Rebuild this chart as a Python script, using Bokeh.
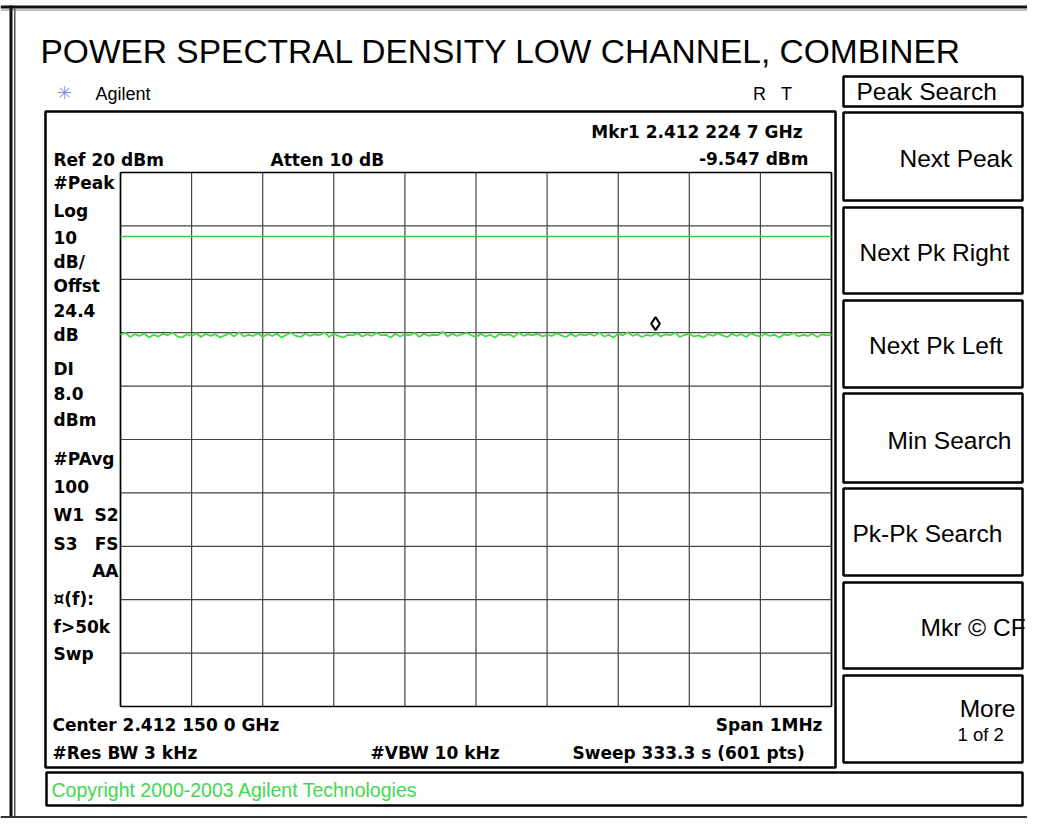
from bokeh.plotting import figure
from bokeh.models import Range1d
from bokeh.core.properties import value
from bokeh.embed import file_html
from bokeh.resources import INLINE
import numpy as np

# ---------------- data ----------------
center_mhz = 2412.150
span_mhz = 1.0
ref_level_dbm = 20.0
db_per_div = 10.0
n_div = 10
display_line_dbm = 8.0

trace_dbm = [
    -10.4, -10.0, -10.8, -10.3, -10.6, -10.1, -10.9, -10.4, -10.7, -10.2,
    -10.5, -10.0, -10.7, -10.9, -10.3, -10.6, -10.1, -10.8, -10.2, -10.6,
    -10.3, -10.9, -10.5, -10.1, -10.7, -9.9, -10.7, -10.4, -10.6, -10.1,
    -10.8, -10.3, -10.6, -10.2, -10.9, -10.4, -10.0, -10.6, -10.8, -10.2,
    -10.6, -10.3, -10.5, -9.9, -10.8, -10.2, -10.6, -10.9, -10.4, -10.5,
    -10.1, -10.7, -10.3, -10.6, -10.0, -10.5, -10.4, -10.9, -10.2, -10.7,
    -10.3, -10.5, -10.0, -10.8, -10.2, -10.6, -10.4, -10.5, -9.8, -10.7,
    -10.2, -10.6, -10.3, -10.0, -10.5, -10.8, -10.2, -10.7, -10.4, -10.9,
    -10.2, -10.5, -10.3, -10.8, -10.0, -10.6, -10.3, -10.5, -10.2, -10.7,
    -10.4, -10.6, -10.1, -10.5, -10.8, -10.2, -10.7, -10.3, -10.5, -10.2,
    -10.6, -10.0, -10.7, -10.4, -10.9, -10.2, -10.5, -9.9, -10.6, -10.3,
    -10.8, -10.4, -10.6, -10.1, -10.7, -10.3, -10.5, -10.0, -10.8, -10.4,
    -10.2, -10.7, -10.5, -10.9, -10.3, -10.6, -10.1, -10.5, -10.8, -10.2,
    -10.6, -10.3, -10.8, -10.1, -10.5, -10.7, -10.2, -10.6, -10.4, -10.9,
    -10.3, -10.5, -10.0, -10.7, -10.4, -10.6, -10.2, -10.8, -10.3, -10.5,
    -10.4,
]
marker_freq_mhz = [2412.4025]
marker_dbm = [-8.3]

title_text = "POWER SPECTRAL DENSITY LOW CHANNEL, COMBINER"
left_info = ["#Peak", "Log", "10", "dB/", "Offst", "24.4", "dB", "DI", "8.0", "dBm",
             "#PAvg", "100", "W1", "S3", "\u00a4(f):", "f>50k", "Swp"]
softkeys = ["Next Peak", "Next Pk Right", "Next Pk Left", "Min Search",
            "Pk-Pk Search", "Mkr \u00a9 CF", "More"]

# ---------------- layout (pixels of the screen) ----------------
W, H = 1027, 818
GX0, GX1, GY0, GY1 = 120, 831, 172, 706   # graticule box

f_start = center_mhz - span_mhz / 2
f_stop = center_mhz + span_mhz / 2
y_bottom = ref_level_dbm - db_per_div * n_div

p = figure(width=W, height=H, output_backend="svg", toolbar_location=None,
           title=None, x_axis_type=None, y_axis_type=None,
           x_range=Range1d(0, W), y_range=Range1d(H, 0),
           min_border=0)
p.outline_line_color = None
p.background_fill_color = "white"
p.border_fill_color = "white"
p.grid.visible = False

# data ranges mapped onto the graticule box
px_per_mhz = (GX1 - GX0) / span_mhz
px_per_db = (GY1 - GY0) / (ref_level_dbm - y_bottom)
p.extra_x_ranges = {"freq": Range1d(f_start - GX0 / px_per_mhz,
                                    f_start + (W - GX0) / px_per_mhz)}
p.extra_y_ranges = {"db": Range1d(ref_level_dbm - (H - GY0) / px_per_db,
                                  ref_level_dbm + GY0 / px_per_db)}
D = dict(x_range_name="freq", y_range_name="db")

xticks = [f_start + i * span_mhz / n_div for i in range(n_div + 1)]
yticks = [y_bottom + i * db_per_div for i in range(n_div + 1)]

# graticule
p.segment(x0=xticks, y0=[y_bottom] * len(xticks), x1=xticks, y1=[ref_level_dbm] * len(xticks),
          line_color="#444444", line_width=1.2, **D)
p.segment(x0=[f_start] * len(yticks), y0=yticks, x1=[f_stop] * len(yticks), y1=yticks,
          line_color="#444444", line_width=1.2, **D)
p.quad(left=[f_start], right=[f_stop], bottom=[y_bottom], top=[ref_level_dbm],
       fill_alpha=0, line_color="black", line_width=1.6, **D)

freqs = np.linspace(f_start, f_stop, len(trace_dbm))
p.line([f_start, f_stop], [display_line_dbm, display_line_dbm],
       line_color="#2fd62f", line_width=1.5, **D)
p.line(freqs, trace_dbm, line_color="#3cdc3c", line_width=1.7, **D)
p.scatter(marker_freq_mhz, marker_dbm, marker="diamond", size=13,
          fill_color="white", line_color="black", line_width=2, **D)


def box(l, r, t, b, lw=2.5, fill=None, line="black"):
    p.quad(left=[l], right=[r], top=[t], bottom=[b],
           fill_color=fill if fill else "white", fill_alpha=1.0 if fill else 0.0,
           line_color=line if line else "white", line_alpha=1.0 if line else 0.0,
           line_width=lw)


def lab(text, x, y, align="left", size="17px", style="bold", font="DejaVu Sans",
        color="black"):
    p.text(x=[x], y=[y], text=[text], text_align=align, text_baseline="middle",
           text_font=value(font), text_font_size=value(size),
           text_font_style=style, text_color=color)


# window frame
box(0, W, 5, 8, lw=0, fill="#111111", line=None)
box(0, W, 9, 10, lw=0, fill="#888888", line=None)
box(9, 12, 5, H, lw=0, fill="#111111", line=None)
box(13.5, 15, 8, H, lw=0, fill="#555555", line=None)
box(0, W, 815.5, H, lw=0, fill="#333333", line=None)

# screen boxes
box(45, 835, 111, 767)
box(46, 1022, 772, 805)
box(843, 1022, 76, 106)
btn_rows = [(112, 200), (207, 293), (300, 387), (393, 482), (488, 575), (582, 668), (675, 762)]
for (t, b) in btn_rows:
    box(843, 1022, t, b)

# title and header
lab(title_text, 40, 51, size="33.5px", style="normal", font="Liberation Sans")
lab("\u2733", 64, 92, align="center", size="18px", style="normal", color="#8c8cd0")
lab("Agilent", 95, 93, size="18px", style="normal", font="Liberation Sans")
lab("R", 759, 93, align="center", size="18px", style="normal", font="Liberation Sans")
lab("T", 786, 93, align="center", size="18px", style="normal", font="Liberation Sans")
lab("Peak Search", 856, 91, size="24.5px", style="normal", font="Liberation Sans")

# softkeys
sk_pos = [(1012, 158, "right"), (859, 252, "left"), (1002, 345, "right"),
          (1011, 440, "right"), (852, 533, "left"), (920, 627, "left"),
          (1015, 708, "right")]
for txt, (x, y, a) in zip(softkeys, sk_pos):
    lab(txt, x, y, align=a, size="24.5px", style="normal", font="Liberation Sans")
lab("1 of 2", 957, 734, size="18.5px", style="normal", font="Liberation Sans")

# instrument annotations
lab("Ref 20 dBm", 53, 159)
lab("Atten 10 dB", 270, 159)
lab("Mkr1  2.412 224 7 GHz", 808, 131, align="right")
lab("-9.547 dBm", 808, 158, align="right")

left_y = [182, 210, 237, 261, 285, 310, 334, 368, 393, 419, 458, 486, 514, 543,
          598, 626, 653]
for txt, y in zip(left_info, left_y):
    lab(txt, 53, y)
lab("S2", 118, 514, align="right")
lab("FS", 118, 543, align="right")
lab("AA", 118, 570, align="right")

lab("Center 2.412 150 0 GHz", 52, 724)
lab("Span 1MHz", 822, 724, align="right")
lab("#Res BW 3 kHz", 52, 752)
lab("#VBW 10 kHz", 370, 752)
lab("Sweep  333.3 s (601 pts)", 572, 752)

lab("Copyright 2000-2003 Agilent Technologies", 51, 789, size="19.5px", style="normal",
    font="Liberation Sans", color="#3fd84f")

open("out.html", "w").write(file_html(p, INLINE))
